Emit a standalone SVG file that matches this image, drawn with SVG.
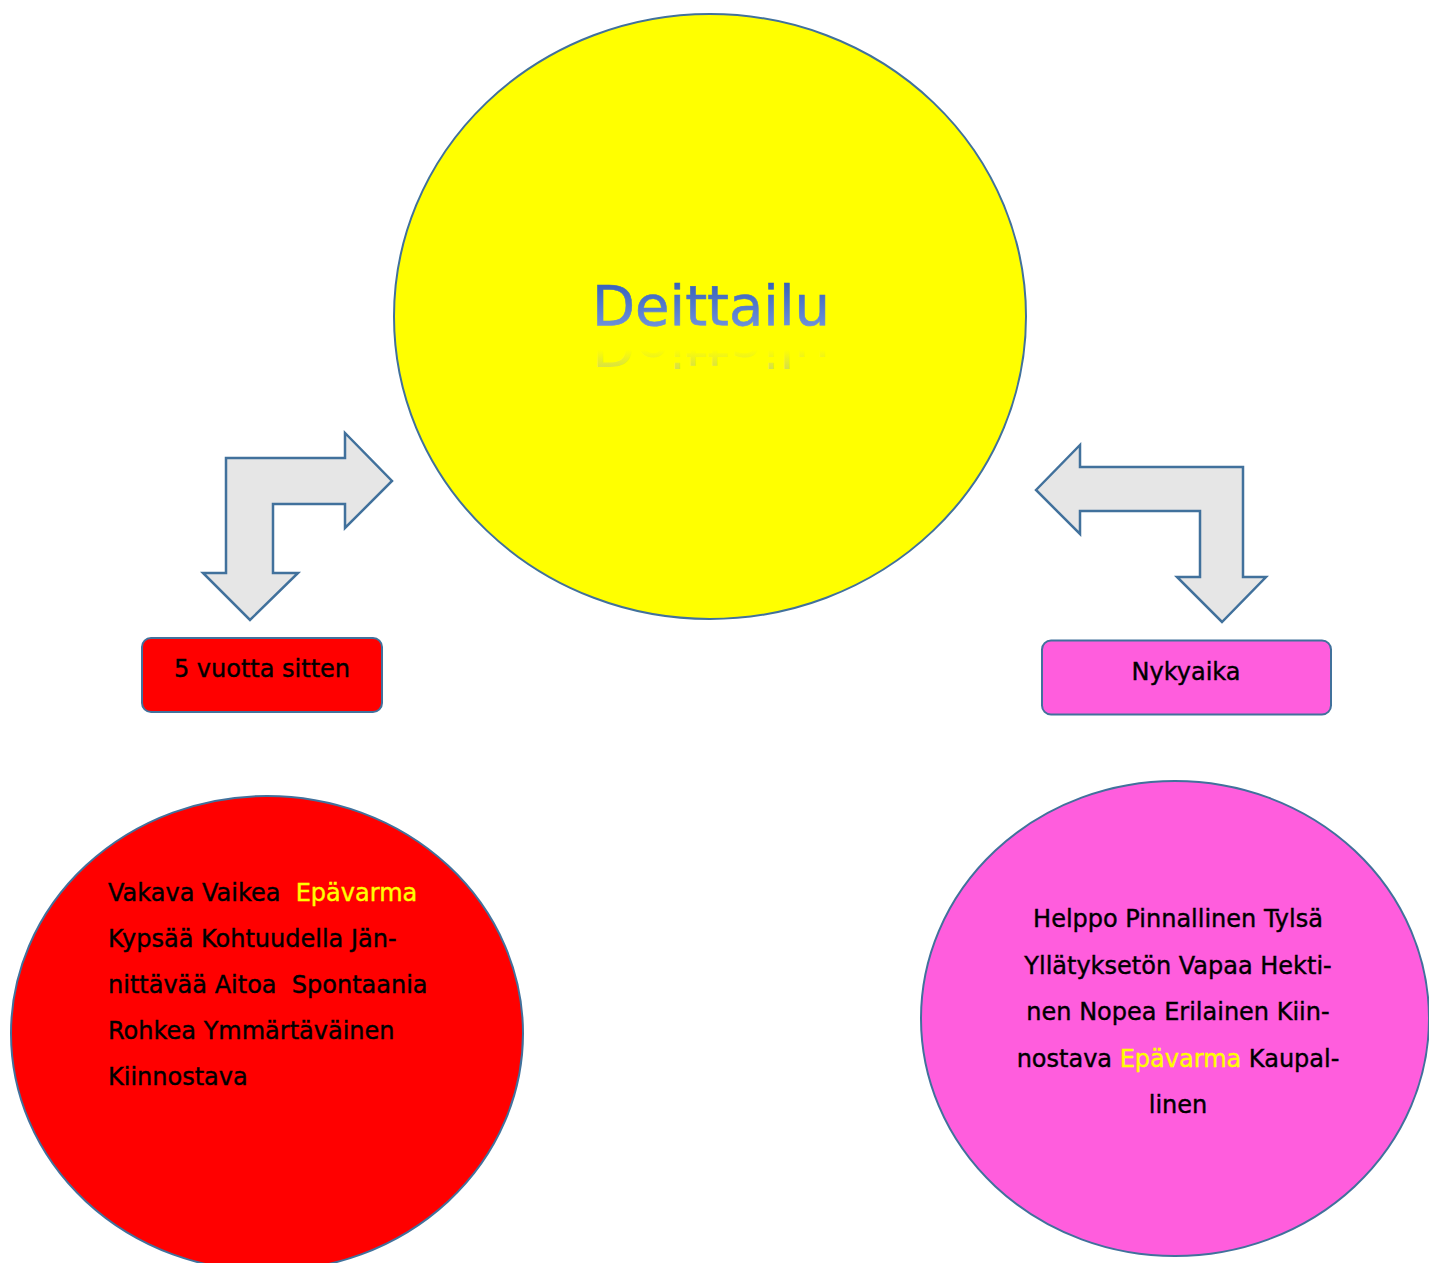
<svg xmlns="http://www.w3.org/2000/svg" width="1429" height="1263" viewBox="0 0 1429 1263">
  <style>
    .shape { stroke: #41719c; stroke-width: 2; }
    .arrow { fill: #e6e6e6; stroke: #41719c; stroke-width: 2.5; stroke-linejoin: miter; }
    .txt { font-family: "DejaVu Sans", "Liberation Sans", sans-serif; font-size: 24px; fill: #000; stroke: #000; stroke-width: 0.4; }
    .hl { fill: #ffff00; stroke: #ffff00; }
    .title { font-family: "DejaVu Sans", "Liberation Sans", sans-serif; font-size: 56px; }
  </style>
  <defs>
    <linearGradient id="titleGrad" x1="0" y1="0" x2="0" y2="1">
      <stop offset="0" stop-color="#2a56b4"/>
      <stop offset="1" stop-color="#7c9de2"/>
    </linearGradient>
    <linearGradient id="reflGrad" x1="0" y1="0" x2="0" y2="1">
      <stop offset="0" stop-color="#7f9fe0" stop-opacity="0.5"/>
      <stop offset="0.45" stop-color="#7f9fe0" stop-opacity="0"/>
    </linearGradient>
  </defs>

  <rect width="1429" height="1263" fill="#ffffff"/>

  <g id="deittailu">
    <ellipse cx="710" cy="316.5" rx="316" ry="302.5" fill="#ffff00" class="shape"/>
    <text x="711" y="325" text-anchor="middle" class="title" fill="url(#titleGrad)" stroke="url(#titleGrad)" stroke-width="0.6">Deittailu</text>
    <text x="711" y="325" text-anchor="middle" class="title" fill="url(#reflGrad)" transform="translate(0,652) scale(1,-1)">Deittailu</text>
  </g>

  <g id="connectors">
    <path class="arrow" d="M226,458 L345,458 L345,433 L392,481 L345,528 L345,504 L273,504 L273,573 L298,573 L250,620 L203,573 L226,573 Z"/>
    <path class="arrow" d="M1036,490 L1080,445 L1080,467 L1243,467 L1243,577 L1266,577 L1222,622 L1177,577 L1200,577 L1200,511 L1080,511 L1080,534 Z"/>
  </g>

  <g id="box-5-vuotta">
    <rect x="142" y="638" width="240" height="74" rx="9" fill="#ff0000" class="shape"/>
    <text x="262" y="677" text-anchor="middle" class="txt">5 vuotta sitten</text>
  </g>

  <g id="box-nykyaika">
    <rect x="1042" y="640.5" width="289" height="74" rx="9" fill="#ff5ddd" class="shape"/>
    <text x="1186" y="680" text-anchor="middle" class="txt">Nykyaika</text>
  </g>

  <g id="circle-5-vuotta">
    <ellipse cx="267" cy="1033.5" rx="256" ry="237.5" fill="#ff0000" class="shape"/>
    <text class="txt" x="108" y="901" xml:space="preserve">Vakava Vaikea  <tspan class="hl">Epävarma</tspan></text>
    <text class="txt" x="108" y="947">Kypsää Kohtuudella Jän-</text>
    <text class="txt" x="108" y="993" xml:space="preserve">nittävää Aitoa  Spontaania</text>
    <text class="txt" x="108" y="1039">Rohkea Ymmärtäväinen</text>
    <text class="txt" x="108" y="1085">Kiinnostava</text>
  </g>

  <g id="circle-nykyaika">
    <ellipse cx="1175" cy="1018.5" rx="254" ry="237.5" fill="#ff5ddd" class="shape"/>
    <text class="txt" x="1178" y="927" text-anchor="middle">Helppo Pinnallinen Tylsä</text>
    <text class="txt" x="1178" y="973.5" text-anchor="middle">Yllätyksetön Vapaa Hekti-</text>
    <text class="txt" x="1178" y="1020" text-anchor="middle">nen Nopea Erilainen Kiin-</text>
    <text class="txt" x="1178" y="1066.5" text-anchor="middle">nostava <tspan class="hl">Epävarma</tspan> Kaupal-</text>
    <text class="txt" x="1178" y="1113" text-anchor="middle">linen</text>
  </g>
</svg>
